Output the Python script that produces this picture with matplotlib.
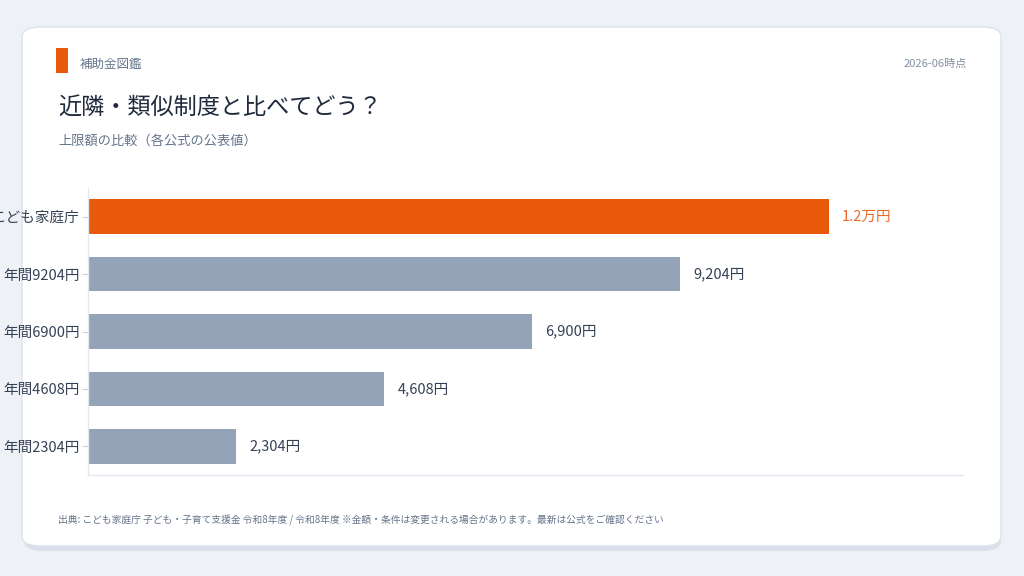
import matplotlib
matplotlib.use("Agg")
import matplotlib.pyplot as plt
from matplotlib.patches import FancyBboxPatch, Rectangle

plt.rcParams['font.family'] = ['Noto Sans CJK JP', 'DejaVu Sans']

# データ
labels = ["こども家庭庁", "年間9204円", "年間6900円", "年間4608円", "年間2304円"]
values = [11520, 9204, 6900, 4608, 2304]
value_text = ["1.2万円", "9,204円", "6,900円", "4,608円", "2,304円"]

ORANGE = "#E8590C"
GRAY = "#94A3B8"

fig = plt.figure(figsize=(10.24, 5.76), dpi=100)
fig.patch.set_facecolor("#EEF2F7")

W, H = 1024, 576
def fx(px):
    return px / W
def fy(py):
    return 1 - py / H

# カード（影つき）
shadow = FancyBboxPatch((fx(24), fy(551)), fx(977), fy(32) - fy(551),
                        boxstyle="round,pad=0,rounding_size=0.018",
                        transform=fig.transFigure, facecolor="#D9E0EA", edgecolor="none", zorder=0)
fig.patches.append(shadow)
card = FancyBboxPatch((fx(22), fy(546)), fx(979), fy(27) - fy(546),
                      boxstyle="round,pad=0,rounding_size=0.018",
                      transform=fig.transFigure, facecolor="white", edgecolor="#DDE3EC",
                      linewidth=1, zorder=1)
fig.patches.append(card)

# アクセント
fig.patches.append(Rectangle((fx(56), fy(73)), fx(12), fy(48) - fy(73),
                             transform=fig.transFigure, facecolor=ORANGE, edgecolor="none", zorder=2))

fig.text(fx(80), fy(64), "補助金図鑑", fontsize=9, color="#64748B", va="center", zorder=3)
fig.text(fx(967), fy(64), "2026-06時点", fontsize=8, color="#8390A2", va="center", ha="right", zorder=3)
fig.text(fx(58), fy(107), "近隣・類似制度と比べてどう？", fontsize=16.7, color="#1E293B", va="center", zorder=3)
fig.text(fx(58), fy(141), "上限額の比較（各公式の公表値）", fontsize=9.5, color="#64748B", va="center", zorder=3)
fig.text(fx(58), fy(520),
         "出典: こども家庭庁 子ども・子育て支援金 令和8年度 / 令和8年度 ※金額・条件は変更される場合があります。最新は公式をご確認ください",
         fontsize=7, color="#64748B", va="center", zorder=3)

ax = fig.add_axes([fx(88), fy(475), fx(963) - fx(88), fy(188) - fy(475)])
ax.set_zorder(3)
ax.patch.set_alpha(0)

colors = [ORANGE] + [GRAY] * (len(values) - 1)
ypos = list(range(len(values)))
ax.barh(ypos, values, height=0.6, color=colors, edgecolor="none")
ax.set_ylim(len(values) - 0.5, -0.5)
ax.set_xlim(0, 13600)

for i, (v, t) in enumerate(zip(values, value_text)):
    ax.text(v + 200, i, t, va="center", ha="left", fontsize=10.5,
            color="#EA6A28" if i == 0 else "#334155")

ax.set_yticks(ypos)
ax.set_yticklabels(labels, fontsize=10.5, color="#334155")
ax.set_xticks([])
ax.tick_params(axis="y", length=4, color="#CBD5E1", pad=2)
for s in ["top", "right"]:
    ax.spines[s].set_visible(False)
for s in ["left", "bottom"]:
    ax.spines[s].set_color("#E2E8F0")
    ax.spines[s].set_linewidth(1)

fig.savefig("out.png", dpi=100, facecolor=fig.get_facecolor())
